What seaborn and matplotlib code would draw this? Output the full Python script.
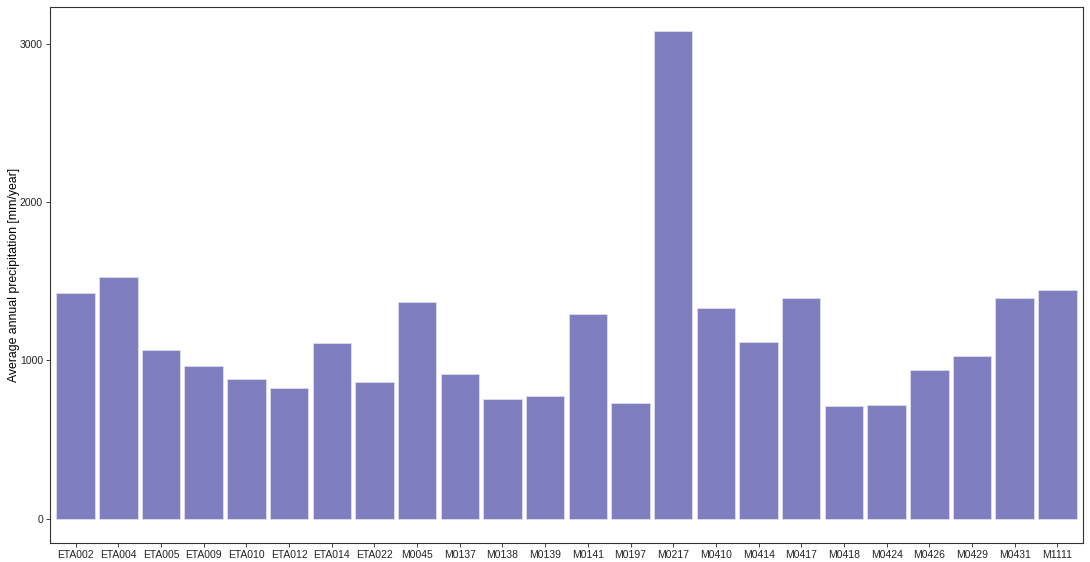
import seaborn as sns
import matplotlib.pyplot as plt
import pandas as pd

# stations and mean annual precipitation (mm/year)
stations = ["ETA002", "ETA004", "ETA005", "ETA009", "ETA010", "ETA012", "ETA014", "ETA022",
            "M0045", "M0137", "M0138", "M0139", "M0141", "M0197", "M0217", "M0410",
            "M0414", "M0417", "M0418", "M0424", "M0426", "M0429", "M0431", "M1111"]
precip = [1425, 1530, 1067, 966, 884, 825, 1109, 866,
          1369, 915, 757, 776, 1293, 732, 3079, 1331,
          1117, 1394, 713, 719, 940, 1028, 1394, 1445]

df = pd.DataFrame({"station": stations, "precip": precip})

sns.set_style("white")
plt.rcParams['font.family'] = ['Liberation Sans', 'DejaVu Sans']

fig = plt.figure(figsize=(10.9, 5.62), dpi=100)
ax = fig.add_axes([50 / 1090, 1 - 543 / 562, 1033 / 1090, 536 / 562])

sns.barplot(data=df, x="station", y="precip", color="#7F7FBF", saturation=1,
            width=0.9, edgecolor="#DCDCF0", linewidth=0.6, ax=ax)

ax.set_xlim(-0.6, len(stations) - 0.4)
ax.set_ylim(-154, 3233)
ax.set_yticks([0, 1000, 2000, 3000])
ax.set_xlabel("")
ax.set_ylabel("Average annual precipitation [mm/year]", fontsize=8.8, color="black", labelpad=0)
ax.tick_params(axis="both", labelsize=7.5, colors="#222222", length=3, width=0.6,
               direction="out", bottom=True, left=True, pad=2)
for s in ax.spines.values():
    s.set_color("#333333")
    s.set_linewidth(0.8)

fig.savefig("out.png", dpi=100)
